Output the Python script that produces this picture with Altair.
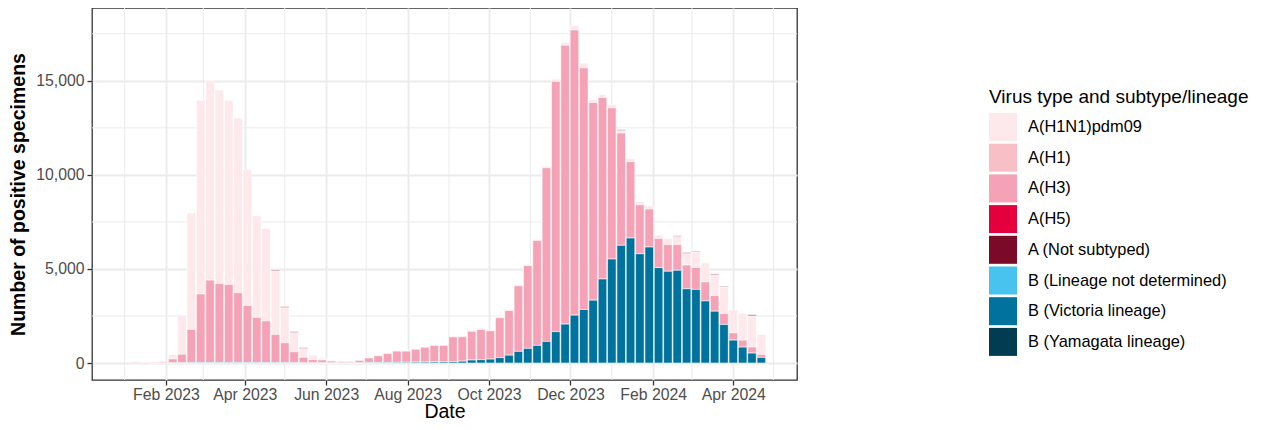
import altair as alt
import pandas as pd

# ---------------- data ----------------
first_week = "2023-01-09"
n_weeks = 68

categories = ["A(H1N1)pdm09", "A(H1)", "A(H3)", "A(H5)", "A (Not subtyped)",
              "B (Lineage not determined)", "B (Victoria lineage)", "B (Yamagata lineage)"]
colours = ["#FDE8EC", "#F8BFC6", "#F5A2B7", "#E4003D", "#7A0A28",
           "#48C3F0", "#00729E", "#003D53"]
# stacking position (bottom = smallest)
stack_rank = {"B (Yamagata lineage)": 0, "B (Victoria lineage)": 1,
              "B (Lineage not determined)": 2, "A(H3)": 3, "A(H1)": 4,
              "A(H5)": 5, "A(H1N1)pdm09": 6, "A (Not subtyped)": 7}

pdm09 = [10, 10, 20, 20, 240, 2080, 6180, 10280, 10590, 10280, 9780, 9280, 7210, 5400, 4910, 3370, 1870, 1025, 470, 225,
         85, 25, 20, 20, 15, 15, 15, 20, 20, 20, 25, 25, 30, 30,
         40, 50, 60, 70, 70, 60, 70, 60, 60, 70, 80, 120, 140, 250, 250, 140, 160, 175, 140, 160, 160, 160, 177, 318,
         440, 620, 830, 1007, 1110, 1420, 1219, 1431, 1660, 1061]
h3 = [40, 30, 45, 65, 210, 455, 1770, 3645, 4385, 4205, 4150, 3710, 3035, 2405, 2215, 1500, 1060, 585, 300, 175,
      160, 100, 75, 80, 140, 255, 365, 480, 600, 595, 690, 790, 885, 880,
      1320, 1300, 1530, 1605, 1505, 2120, 2372, 3490, 4400, 5570, 9230, 13300, 14820, 15155, 12845, 10510, 9645,
      8035, 5965, 4056, 2597, 2023, 1552, 1420, 1365, 1261, 1162, 1007, 830, 582, 389, 371, 322, 159]
not_subtyped = [0, 0, 0, 0, 0, 0, 0, 0, 0, 0, 0, 0, 0, 0, 0, 40, 40, 35, 30, 0,
                0, 0, 0, 0, 0, 0, 0, 0, 0, 0, 0, 0, 0, 0,
                0, 0, 0, 0, 0, 0, 0, 0, 0, 0, 0, 0, 0, 0, 0, 0, 0, 0, 35, 0, 0, 0, 0, 0,
                25, 35, 30, 0, 40, 30, 0, 0, 50, 0]
victoria = [0, 0, 5, 5, 10, 15, 20, 25, 25, 25, 30, 30, 25, 25, 25, 20, 20, 15, 10, 10,
            5, 5, 5, 5, 5, 15, 25, 30, 35, 40, 45, 50, 55, 60,
            70, 100, 160, 180, 210, 290, 420, 620, 780, 940, 1150, 1670, 2070, 2545, 2845, 3340, 4470, 5530,
            6255, 6644, 5813, 6167, 5071, 4877, 4930, 3950, 3915, 3304, 2756, 2050, 1219, 848, 530, 300]

x_ticks = ["2023-02-01", "2023-04-01", "2023-06-01", "2023-08-01", "2023-10-01",
           "2023-12-01", "2024-02-01", "2024-04-01"]
x_minor = ["2023-01-01", "2023-03-01", "2023-05-01", "2023-07-01", "2023-09-01",
           "2023-11-01", "2024-01-01", "2024-03-01", "2024-05-01"]
y_ticks = [0, 5000, 10000, 15000]
y_minor = [2500, 7500, 12500, 17500]
x_domain = ["2022-12-07T14:00:00", "2024-05-18T17:00:00"]
y_domain = [-901, 18869]

# ---------------- tables ----------------
weeks = [d.strftime("%Y-%m-%dT00:00:00") for d in pd.date_range(first_week, periods=n_weeks, freq="7D")]
series = {"A(H1N1)pdm09": pdm09, "A(H3)": h3, "A (Not subtyped)": not_subtyped,
          "B (Victoria lineage)": victoria}
rows = []
for name, vals in series.items():
    for w, v in zip(weeks, vals):
        if v > 0:
            rows.append({"date": w, "virus": name, "value": v, "rank": stack_rank[name]})
df = pd.DataFrame(rows)

def dt(s):
    d = pd.Timestamp(s)
    return alt.DateTime(year=d.year, month=d.month, date=d.day, hours=d.hour)

FONT = "Liberation Sans"
x_scale = alt.Scale(domain=[dt(s) for s in x_domain], nice=False, padding=0)
y_scale = alt.Scale(domain=y_domain, nice=False, zero=False, padding=0)
x_axis = alt.Axis(values=[dt(s) for s in x_ticks], format="%b %Y", title="Date",
                  labelFont=FONT, labelFontSize=15.8, labelColor="#4D4D4D", labelPadding=2,
                  tickColor="#333333", tickSize=5, tickWidth=1.3, domain=False,
                  grid=True, gridColor="#EBEBEB", gridWidth=1.9,
                  titleFont=FONT, titleFontSize=19.5, titleFontWeight="normal", titleColor="black",
                  titleBaseline="alphabetic", titleY=37, titleX=352.5, titleAlign="center",
                  labelFlush=False, labelOverlap=False)
y_axis = alt.Axis(values=y_ticks, format=",.0f", title="Number of positive specimens",
                  labelFont=FONT, labelFontSize=15.8, labelColor="#4D4D4D", labelPadding=3,
                  tickColor="#333333", tickSize=5, tickWidth=1.3, domain=False,
                  grid=True, gridColor="#EBEBEB", gridWidth=1.9,
                  titleFont=FONT, titleFontSize=19.5, titleFontWeight="bold", titleColor="black",
                  titlePadding=7, labelFlush=False, labelOverlap=False)

minor_x = alt.Chart(pd.DataFrame({"date": [s + "T00:00:00" for s in x_minor]})).mark_rule(
    color="#EBEBEB", strokeWidth=1.0).encode(
    x=alt.X("date:T", scale=x_scale, axis=x_axis))
minor_y = alt.Chart(pd.DataFrame({"value": y_minor})).mark_rule(
    color="#EBEBEB", strokeWidth=1.0).encode(
    y=alt.Y("value:Q", scale=y_scale, axis=y_axis))

bars = alt.Chart(df).mark_bar(width=8.6, stroke="white", strokeWidth=0.6).encode(
    x=alt.X("date:T", scale=x_scale, axis=x_axis),
    y=alt.Y("value:Q", stack="zero", scale=y_scale, axis=y_axis),
    color=alt.Color("virus:N", scale=alt.Scale(domain=categories, range=colours),
                    legend=alt.Legend(title="Virus type and subtype/lineage", orient="none",
                                      legendX=897, legendY=80, padding=0,
                                      titleFont=FONT, titleFontSize=19, titleFontWeight="normal",
                                      titleColor="black", titlePadding=6, titleLimit=400,
                                      labelFont=FONT, labelFontSize=16.4, labelColor="black",
                                      labelLimit=400, labelOffset=11,
                                      symbolType="square", symbolSize=784, symbolStrokeWidth=0,
                                      symbolOpacity=1, rowPadding=2.7)),
    order=alt.Order("rank:Q", sort="ascending"),
)

chart = alt.layer(minor_x, minor_y, bars).properties(
    width=705, height=372,
    padding={"left": 84, "top": 0, "right": 462, "bottom": 42},
    autosize=alt.AutoSizeParams(type="none"),
    background="white",
).configure_view(stroke="#333333", strokeWidth=1.3)

chart.save("out.html", embed_options={"renderer": "svg", "actions": False})
